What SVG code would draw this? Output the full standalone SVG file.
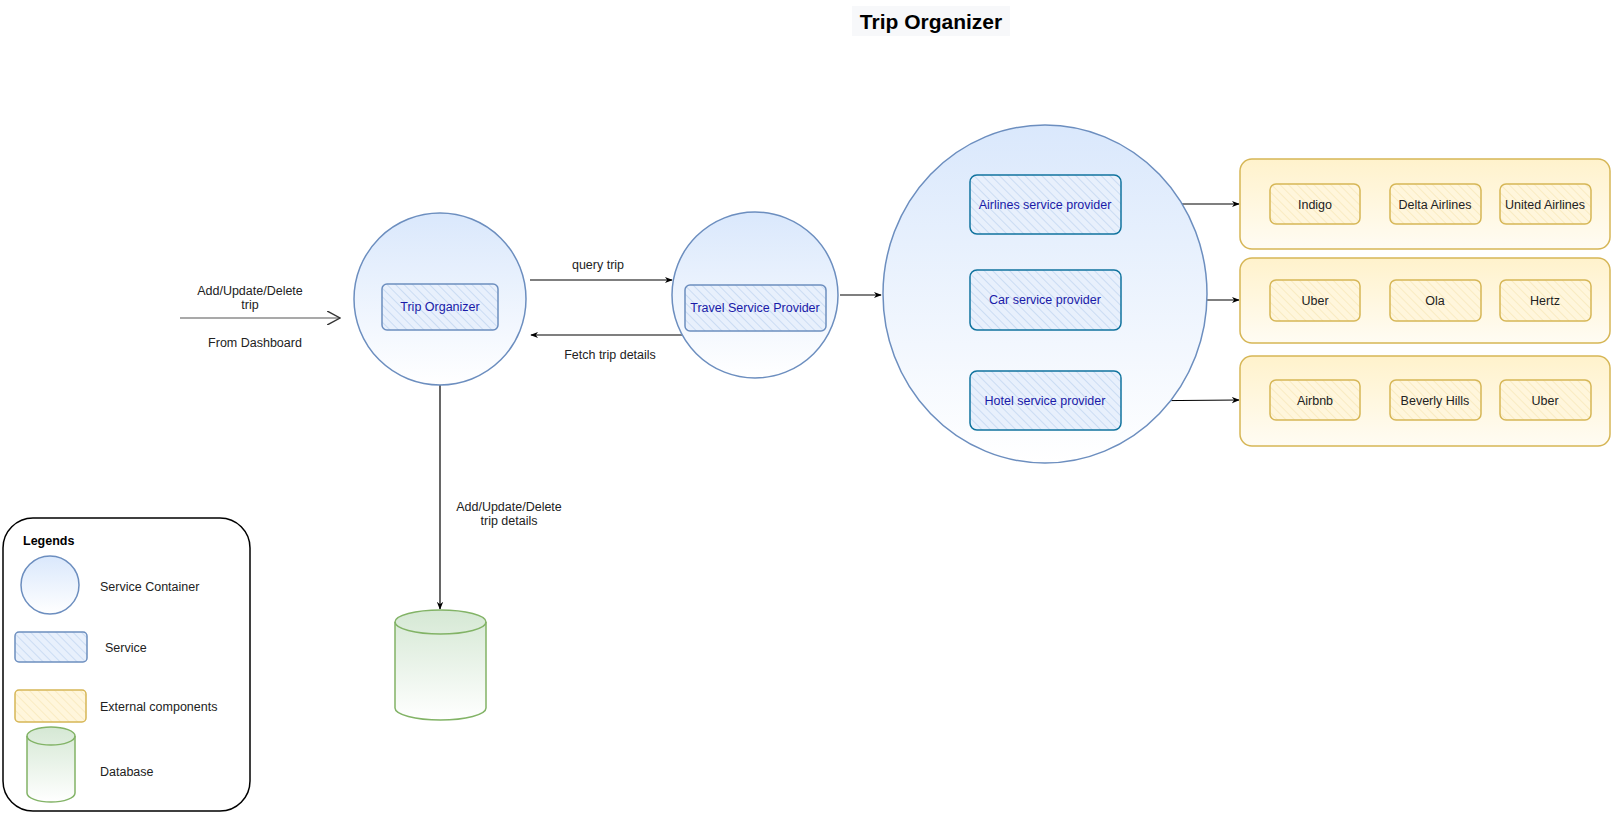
<svg xmlns="http://www.w3.org/2000/svg" width="1611" height="813" viewBox="0 0 1611 813">
<defs>
<linearGradient id="gBlue" x1="0" y1="0" x2="0" y2="1"><stop offset="0" stop-color="#dae8fc"/><stop offset="1" stop-color="#ffffff"/></linearGradient>
<linearGradient id="gYellow" x1="0" y1="0" x2="0" y2="1"><stop offset="0" stop-color="#fff2cc"/><stop offset="1" stop-color="#fffcf3"/></linearGradient>
<linearGradient id="gGreen" x1="0" y1="0" x2="0" y2="1"><stop offset="0" stop-color="#d5e8d4"/><stop offset="1" stop-color="#ffffff"/></linearGradient>
<pattern id="hBlue" width="6" height="6" patternUnits="userSpaceOnUse" patternTransform="rotate(-45)"><rect width="6" height="6" fill="#e8f0fc"/><line x1="0" y1="0" x2="0" y2="6" stroke="#bcd2ef" stroke-width="1.3"/></pattern>
<pattern id="hYellow" width="6" height="6" patternUnits="userSpaceOnUse" patternTransform="rotate(-45)"><rect width="6" height="6" fill="#fff6dc"/><line x1="0" y1="0" x2="0" y2="6" stroke="#f7e6b4" stroke-width="1.3"/></pattern>
<marker id="arr" viewBox="0 0 10 10" refX="9" refY="5" markerWidth="8" markerHeight="8" orient="auto" markerUnits="userSpaceOnUse"><path d="M0,1 L10,5 L0,9 L3,5 Z" fill="#000"/></marker>
<marker id="open" viewBox="0 0 12 12" refX="11" refY="6" markerWidth="14" markerHeight="14" orient="auto" markerUnits="userSpaceOnUse"><path d="M0,0 L11,6 L0,12" fill="none" stroke="#333" stroke-width="1.2"/></marker>
</defs>
<style>
text{font-family:"Comic Sans MS","Liberation Sans",sans-serif;font-size:12.5px;fill:#222;}
.svc{fill:#1a1aa8;}
.ctn{fill:url(#gBlue);stroke:#6c8ebf;stroke-width:1.5;}
.srv{fill:url(#hBlue);stroke:#6c8ebf;stroke-width:1.5;}
.srv2{fill:url(#hBlue);stroke:#10739e;stroke-width:1.5;}
.ext{fill:url(#gYellow);stroke:#d6b656;stroke-width:1.5;}
.extb{fill:url(#hYellow);stroke:#d6b656;stroke-width:1.5;}
.db{fill:url(#gGreen);stroke:#82b366;stroke-width:1.5;}
.edge{stroke:#000;stroke-width:1.2;fill:none;}
</style>

<g id="title">
<rect x="852" y="6" width="158" height="30" fill="#f7f8fa"/>
<text x="931" y="29" text-anchor="middle" style="font-size:21px;font-weight:bold;fill:#000;">Trip Organizer</text>
</g>

<g id="connectors">
<line class="edge" x1="180" y1="318" x2="340" y2="318" marker-end="url(#open)" style="stroke:#555;"/>
<line class="edge" x1="530" y1="280" x2="672" y2="280" marker-end="url(#arr)"/>
<line class="edge" x1="682" y1="335" x2="531" y2="335" marker-end="url(#arr)"/>
<line class="edge" x1="840" y1="295" x2="881" y2="295" marker-end="url(#arr)"/>
<line class="edge" x1="1121" y1="204" x2="1239" y2="204" marker-end="url(#arr)"/>
<line class="edge" x1="1121" y1="300" x2="1239" y2="300" marker-end="url(#arr)"/>
<line class="edge" x1="1121" y1="401" x2="1239" y2="400" marker-end="url(#arr)"/>
<line class="edge" x1="440" y1="384" x2="440" y2="609" marker-end="url(#arr)"/>
<text x="250" y="295" text-anchor="middle">Add/Update/Delete</text>
<text x="250" y="309" text-anchor="middle">trip</text>
<text x="255" y="347" text-anchor="middle">From Dashboard</text>
<text x="598" y="269" text-anchor="middle">query trip</text>
<text x="610" y="359" text-anchor="middle">Fetch trip details</text>
<text x="509" y="511" text-anchor="middle">Add/Update/Delete</text>
<text x="509" y="525" text-anchor="middle">trip details</text>
</g>

<g id="trip-organizer">
<circle class="ctn" cx="440" cy="299" r="86"/>
<rect class="srv" x="382" y="284" width="116" height="46" rx="5"/>
<text class="svc" x="440" y="311" text-anchor="middle">Trip Organizer</text>
</g>

<g id="travel-service-provider">
<circle class="ctn" cx="755" cy="295" r="83"/>
<rect class="srv" x="685" y="285" width="141" height="46" rx="5"/>
<text class="svc" x="755" y="312" text-anchor="middle">Travel Service Provider</text>
</g>

<g id="providers">
<ellipse class="ctn" cx="1045" cy="294" rx="162" ry="169"/>
</g>
<g id="airlines-service-provider">
<rect class="srv2" x="970" y="175" width="151" height="59" rx="7"/>
<text class="svc" x="1045" y="209" text-anchor="middle">Airlines service provider</text>
</g>
<g id="car-service-provider">
<rect class="srv2" x="970" y="270" width="151" height="60" rx="7"/>
<text class="svc" x="1045" y="304" text-anchor="middle">Car service provider</text>
</g>
<g id="hotel-service-provider">
<rect class="srv2" x="970" y="371" width="151" height="59" rx="7"/>
<text class="svc" x="1045" y="405" text-anchor="middle">Hotel service provider</text>
</g>

<g id="airlines-external">
<rect class="ext" x="1240" y="159" width="370" height="90" rx="12"/>
<rect class="extb" x="1270" y="184" width="90" height="40" rx="6"/>
<text x="1315" y="209" text-anchor="middle">Indigo</text>
<rect class="extb" x="1390" y="184" width="91" height="40" rx="6"/>
<text x="1435" y="209" text-anchor="middle">Delta Airlines</text>
<rect class="extb" x="1500" y="184" width="91" height="40" rx="6"/>
<text x="1545" y="209" text-anchor="middle">United Airlines</text>
</g>

<g id="car-external">
<rect class="ext" x="1240" y="258" width="370" height="85" rx="12"/>
<rect class="extb" x="1270" y="280" width="90" height="41" rx="6"/>
<text x="1315" y="305" text-anchor="middle">Uber</text>
<rect class="extb" x="1390" y="280" width="91" height="41" rx="6"/>
<text x="1435" y="305" text-anchor="middle">Ola</text>
<rect class="extb" x="1500" y="280" width="91" height="41" rx="6"/>
<text x="1545" y="305" text-anchor="middle">Hertz</text>
</g>

<g id="hotel-external">
<rect class="ext" x="1240" y="356" width="370" height="90" rx="12"/>
<rect class="extb" x="1270" y="380" width="90" height="40" rx="6"/>
<text x="1315" y="405" text-anchor="middle">Airbnb</text>
<rect class="extb" x="1390" y="380" width="91" height="40" rx="6"/>
<text x="1435" y="405" text-anchor="middle">Beverly Hills</text>
<rect class="extb" x="1500" y="380" width="91" height="40" rx="6"/>
<text x="1545" y="405" text-anchor="middle">Uber</text>
</g>

<g id="database">
<path class="db" d="M395,622 L395,708 A45.5,12 0 0 0 486,708 L486,622 A45.5,12 0 0 0 395,622 Z"/>
<path class="db" d="M395,622 A45.5,12 0 0 0 486,622" style="fill:none;"/>
</g>

<g id="legend">
<rect x="3" y="518" width="247" height="293" rx="30" fill="#fff" stroke="#000" stroke-width="1.5"/>
<text x="23" y="545" style="font-weight:bold;font-size:12.5px;fill:#000;">Legends</text>
<circle class="ctn" cx="50" cy="585" r="29"/>
<text x="100" y="591">Service Container</text>
<rect class="srv" x="15" y="632" width="72" height="30" rx="4"/>
<text x="105" y="652">Service</text>
<rect class="extb" x="15" y="690" width="71" height="32" rx="4"/>
<text x="100" y="711">External components</text>
<path class="db" d="M27,736 L27,793 A24,9 0 0 0 75,793 L75,736 A24,9 0 0 0 27,736 Z"/>
<path class="db" d="M27,736 A24,9 0 0 0 75,736" style="fill:none;"/>
<text x="100" y="776">Database</text>
</g>
</svg>
